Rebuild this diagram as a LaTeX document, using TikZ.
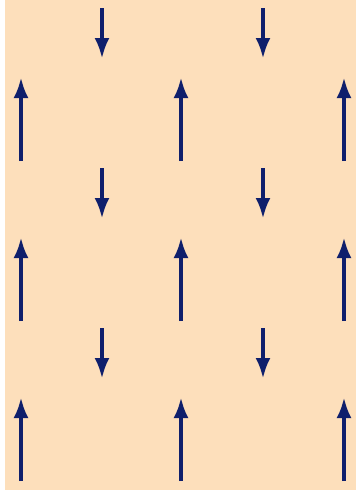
\documentclass[tikz,border=0pt]{standalone}
\usetikzlibrary{arrows.meta}
\definecolor{peach}{HTML}{FDDFBB}
\definecolor{navy}{HTML}{0F1F6C}
\tikzset{
  spinup/.style={draw=navy, line width=4.5pt, -{Latex[length=21pt,width=15pt]}},
  spindown/.style={draw=navy, line width=4.5pt, -{Latex[length=21pt,width=15pt]}},
}
\begin{document}
\begin{tikzpicture}[x=1pt,y=-1pt]
\useasboundingbox (0,0) rectangle (356,493);
\fill[white] (0,0) rectangle (356,493);
\fill[peach] (5,0) rectangle (356,490);
\foreach \r/\yt in {0/77,1/237,2/397}{
  \foreach \c/\x in {a/21,b/181,c/344}{
    \coordinate (u\c\r s) at (\x,\yt+84);
    \coordinate (u\c\r e) at (\x,\yt);
    \draw[spinup] (u\c\r s) -- (u\c\r e);
  }
}
\foreach \r/\yt in {0/8,1/168,2/328}{
  \foreach \c/\x in {a/102,b/263}{
    \coordinate (d\c\r s) at (\x,\yt);
    \coordinate (d\c\r e) at (\x,\yt+51);
    \draw[spindown] (d\c\r s) -- (d\c\r e);
  }
}
\end{tikzpicture}
\end{document}
